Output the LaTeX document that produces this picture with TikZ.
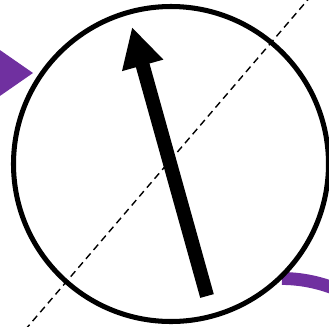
\documentclass[tikz,border=0pt]{standalone}
\usetikzlibrary{arrows.meta}
\definecolor{violet}{RGB}{112,48,160}
\begin{document}
\begin{tikzpicture}[x=0.03cm, y=-0.03cm, >=stealth, thick]
    \def\R{157.5}
    \useasboundingbox (0,0) rectangle (329,326);
    \clip (0,0) rectangle (329,326);
    \coordinate (centre) at (171,164);
    \coordinate (tail) at (207,296);
    \coordinate (tip) at (132,27);
    \coordinate (dashA) at (25,330);
    \coordinate (dashB) at (311,-4);
    % Incoming pointer
    \fill[violet] (-3,48) -- (33,73) -- (-3,98) -- cycle;
    % Outgoing stroke
    \draw[violet, line width=11pt] (282,278.5) .. controls (300,278.5) and (318,282) .. (336,289);
    % Ring
    \draw[line width=4.3pt] (centre) circle (\R);
    % Axis
    \draw[dashed, line width=1.2pt, dash pattern=on 6pt off 4pt] (dashA) -- (dashB);
    % Vector
    \draw[line width=12pt, -{Triangle[length=34pt, width=34pt]}] (tail) -- (tip);
\end{tikzpicture}
\end{document}
